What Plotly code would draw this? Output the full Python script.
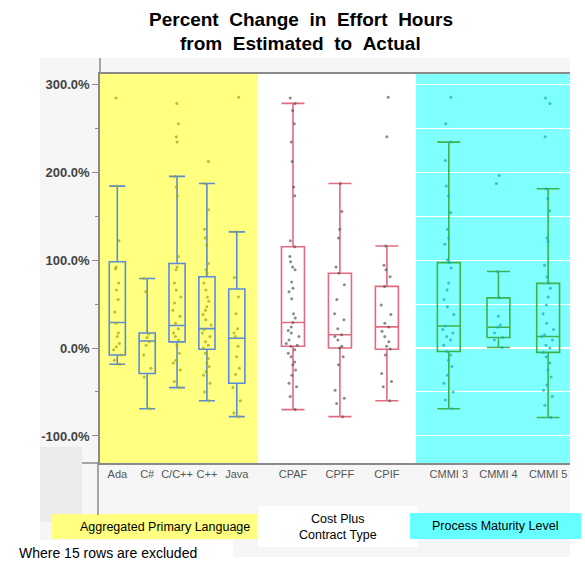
import plotly.graph_objects as go
from plotly.subplots import make_subplots

# ---------------- data (percent change, estimated -> actual) ----------------
lang_cats = ["Ada", "C#", "C/C++", "C++", "Java"]
lang_q1 = [-8, -29, 7, -1.5, -40]
lang_med = [29, 8, 25.5, 22, 11]
lang_q3 = [98, 17, 96, 81, 67]
lang_lo = [-18.5, -69, -45, -60, -78]
lang_hi = [184, 79, 195, 187, 132]
lang_pts = [
    [284, 184, 122, 92, 90, 74, 66, 55, 41, 28, 17, 13, 5, 1.5, -2, -8, -14, -18.5],
    [79, 64, 16, 12, 7, 3, -8, -23, -33, -69],
    [278, 255, 240, 234, 195, 183, 173, 104, 92, 89, 74, 66, 58, 51, 43, 36, 28,
     22, 17, 13, 9, 3, -6, -14, -17, -25, -38, -45],
    [212, 187, 157, 135, 125, 117, 96, 89, 85, 74, 66, 58, 53, 47, 43, 38, 32, 26,
     21, 17, 13, 7, 3, 0, -6, -12, -17, -21, -27, -31, -40, -50, -60],
    [285, 132, 80, 58, 39, 22, 17, 13, 2, -10, -23, -30, -45, -60, -74, -78],
]

cost_cats = ["CPAF", "CPFF", "CPIF"]
cost_q1 = [2, 0, -1.5]
cost_med = [29, 15, 24]
cost_q3 = [115, 85, 70]
cost_lo = [-70, -78, -60]
cost_hi = [278, 187, 116]
cost_pts = [
    [284, 278, 270, 255, 234, 212, 183, 173, 122, 115, 104, 98, 92, 89, 75, 68, 64,
     56, 39, 34, 29, 24, 20, 17, 13, 9, 5, 3, 2, -2, -6, -10, -16, -19, -25, -31,
     -40, -44, -55, -70],
    [187, 155, 135, 125, 92, 85, 72, 55, 39, 32, 22, 15, 13, 9, 2, 0, -10, -19,
     -48, -57, -63, -78],
    [285, 240, 116, 94, 89, 81, 70, 49, 38, 28, 24, 19, 13, 7, 2, -1, -8, -29,
     -38, -44, -60],
]

cmmi_cats = ["CMMI 3", "CMMI 4", "CMMI 5"]
cmmi_q1 = [-4, 12, -5]
cmmi_med = [25, 23.5, 13]
cmmi_q3 = [97, 57, 73.5]
cmmi_lo = [-69, 0.5, -79]
cmmi_hi = [234, 87, 181]
cmmi_pts = [
    [285, 255, 234, 213, 184, 173, 154, 135, 125, 118, 100, 97, 91, 74, 66, 55, 47,
     38, 25, 21, 17, 13, 9, 3, -4, -8, -14, -21, -31, -40, -50, -59, -69],
    [196, 187, 87, 57, 36, 26, 23.5, 17, 12, 9, 0.5],
    [284, 278, 240, 181, 170, 156, 125, 121, 94, 81, 74, 68, 58, 49, 39, 28, 21,
     15, 13, 9, 3, 0, -5, -10, -17, -25, -33, -42, -48, -55, -65, -79],
]

y_ticks = [-100, 0, 100, 200, 300]

# ---------------- layout geometry ----------------
W, H = 585, 562
ML, MR, MT, MB = 100, 15, 74, 99
PW, PH = W - ML - MR, H - MT - MB
FONT = "Liberation Sans, Arial, sans-serif"


def px(x):
    return (x - ML) / PW


def py(y):
    return (H - MB - y) / PH


fig = make_subplots(rows=1, cols=3, shared_yaxes=True, horizontal_spacing=0,
                    column_widths=[158, 158, 154])

# page furniture: grey frame background and group label boxes (drawn first)
frame = [
    (40, 58, 570, 540, "#f6f6f6"),
    (233, 540, 570, 557, "#f6f6f6"),
    (40, 447, 82, 522, "#ebebeb"),
    (52, 514, 258, 539, "#ffff80"),
    (258, 506, 418, 547, "#ffffff"),
    (410, 513, 581, 539, "#66ffff"),
]
for x0, y0, x1, y1, c in frame:
    fig.add_shape(type="rect", xref="paper", yref="paper", x0=px(x0), x1=px(x1),
                  y0=py(y1), y1=py(y0), fillcolor=c, line_width=0, layer="below")

groups = [
    dict(cats=lang_cats, q1=lang_q1, med=lang_med, q3=lang_q3, lo=lang_lo, hi=lang_hi,
         pts=lang_pts, line="#5b8bd9", dot="rgba(165,165,20,0.75)", width=0.54,
         rng=[-0.58, 4.71], bg="#ffff80"),
    dict(cats=cost_cats, q1=cost_q1, med=cost_med, q3=cost_q3, lo=cost_lo, hi=cost_hi,
         pts=cost_pts, line="#e36b7f", dot="rgba(90,90,90,0.7)", width=0.49,
         rng=[-0.745, 2.62], bg="#ffffff"),
    dict(cats=cmmi_cats, q1=cmmi_q1, med=cmmi_med, q3=cmmi_q3, lo=cmmi_lo, hi=cmmi_hi,
         pts=cmmi_pts, line="#3cb44b", dot="rgba(20,175,195,0.75)", width=0.46,
         rng=[-0.66, 2.44], bg="#80ffff"),
]

for col, g in enumerate(groups, start=1):
    for i, c in enumerate(g["cats"]):
        fig.add_trace(go.Box(
            x=[c], q1=[g["q1"][i]], median=[g["med"][i]], q3=[g["q3"][i]],
            lowerfence=[g["lo"][i]], upperfence=[g["hi"][i]],
            width=g["width"], whiskerwidth=1, boxpoints=False,
            line=dict(color=g["line"], width=1.6), fillcolor="rgba(0,0,0,0)",
            showlegend=False, hoverinfo="skip"), row=1, col=col)
        pts = g["pts"][i]
        fig.add_trace(go.Box(
            x=[c] * len(pts), y=pts, width=g["width"], boxpoints="all", jitter=0.6,
            pointpos=0, marker=dict(color=g["dot"], size=3),
            line=dict(color="rgba(0,0,0,0)", width=0), fillcolor="rgba(0,0,0,0)",
            showlegend=False), row=1, col=col)
    ax = "x" if col == 1 else f"x{col}"
    fig.add_shape(type="rect", xref=f"{ax} domain", yref="y domain",
                  x0=0, x1=1, y0=0, y1=1, fillcolor=g["bg"], line_width=0, layer="below")
    fig.update_xaxes(type="category", categoryorder="array", categoryarray=g["cats"],
                     range=g["rng"], showline=True, mirror=True, linecolor="#8a8a8a",
                     linewidth=1.5, ticks="", showgrid=False, zeroline=False,
                     tickfont=dict(family=FONT, size=11, color="#555555"),
                     row=1, col=col)

fig.update_yaxes(range=[-130.7, 311.4], tickmode="array", tickvals=y_ticks,
                 ticktext=[f"{v:.1f}%" for v in y_ticks],
                 showline=True, linecolor="#8a8a8a", linewidth=1.5,
                 ticks="outside", ticklen=6, tickcolor="#8a8a8a", tickwidth=1.2,
                 minor=dict(tickvals=[-50, 50, 150, 250], ticks="outside", ticklen=3,
                            tickcolor="#8a8a8a"),
                 showgrid=False, zeroline=False,
                 tickfont=dict(family=FONT, size=13, color="#444444", weight="bold"),
                 row=1, col=1)

for x0, y0, x1, y1 in [(100, 58, 100, 74), (82, 463, 100, 463), (98, 463, 98, 515)]:
    fig.add_shape(type="line", xref="paper", yref="paper", x0=px(x0), x1=px(x1),
                  y0=py(y0), y1=py(y1), line=dict(color="#8a8a8a", width=1.5))

sp = "\u00a0\u00a0"
texts = [
    (f"Percent{sp}Change{sp}in{sp}Effort{sp}Hours", 301, 20, "center", 19, True),
    (f"from{sp}Estimated{sp}to{sp}Actual", 300, 43.5, "center", 19, True),
    ("Aggregated Primary Language", 252, 527, "right", 12.5, False),
    ("Cost Plus<br>Contract Type", 338, 527, "center", 12.5, False),
    ("Process Maturity Level", 495, 526, "center", 12.5, False),
    ("Where 15 rows are excluded", 17, 553, "left", 14, False),
]
for t, x, y, anchor, size, bold in texts:
    fig.add_annotation(text=t, xref="paper", yref="paper", x=px(x), y=py(y),
                       xanchor=anchor, yanchor="middle", showarrow=False, align=anchor,
                       font=dict(family=FONT, size=size, color="#000000",
                                 weight="bold" if bold else "normal"))

fig.update_layout(width=W, height=H, margin=dict(l=ML, r=MR, t=MT, b=MB),
                  paper_bgcolor="#ffffff", plot_bgcolor="rgba(0,0,0,0)",
                  boxmode="overlay", showlegend=False)

fig.write_html("out.html")
